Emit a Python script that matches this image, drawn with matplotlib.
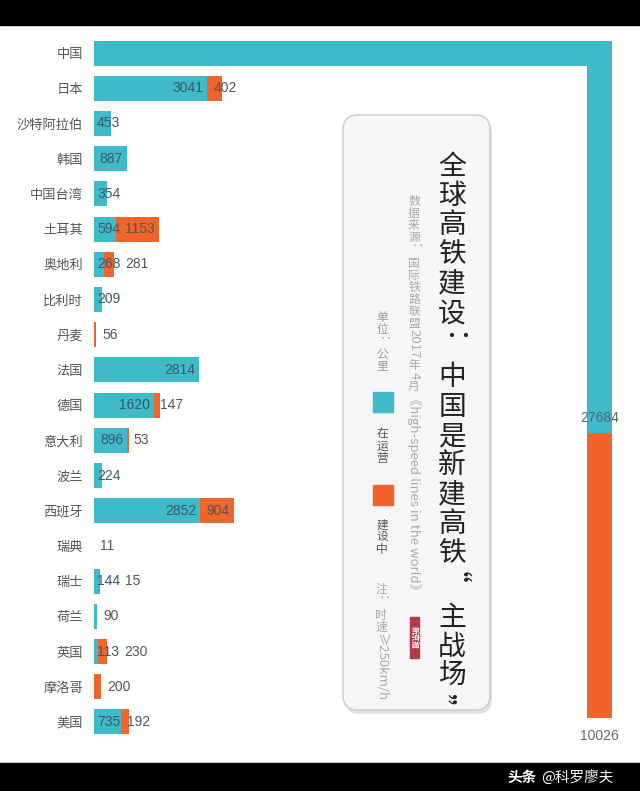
import matplotlib
matplotlib.use('Agg')
import matplotlib.pyplot as plt
import matplotlib.transforms as mtransforms
from matplotlib.patches import Rectangle, FancyBboxPatch
import numpy as np

CJK = ['Noto Sans CJK SC', 'DejaVu Sans']
NUM = ['Liberation Sans', 'DejaVu Sans']
plt.rcParams['font.family'] = CJK

# ---- data (km) ----
countries = ['中国', '日本', '沙特阿拉伯', '韩国', '中国台湾', '土耳其', '奥地利',
             '比利时', '丹麦', '法国', '德国', '意大利', '波兰', '西班牙',
             '瑞典', '瑞士', '荷兰', '英国', '摩洛哥', '美国']
in_operation = [27684, 3041, 453, 887, 354, 594, 268, 209, 0, 2814,
                1620, 896, 224, 2852, 11, 144, 90, 113, 0, 735]
under_construction = [10026, 402, 0, 0, 0, 1153, 281, 0, 56, 0,
                      147, 53, 0, 904, 0, 15, 0, 230, 200, 192]

title = '全球高铁建设：中国是新建高铁“主战场”'
source = '数据来源：国际铁路联盟2017年4月《high-speed lines in the world》'
unit = '单位：公里'
legend_labels = ['在运营', '建设中']
note = '注：时速≥250km/h'
stamp = '新京报'
watermark = ['头条', '@科罗廖夫']

TEAL = '#40b9c8'
ORANGE = '#f2652a'

W, H = 640, 791
fig = plt.figure(figsize=(W / 100, H / 100), dpi=100)
fig.patch.set_facecolor('white')
renderer = fig.canvas.get_renderer()
PIX = mtransforms.IdentityTransform()


def fx(x):
    return x / W


def fy(y):
    return 1 - y / H


# black strips of the screenshot
fig.add_artist(Rectangle((0, H - 25), W, 25, transform=PIX, color='black', zorder=0))
fig.add_artist(Rectangle((0, 0), W, H - 763, transform=PIX, color='black', zorder=0))

# ---- main horizontal bars ----
xmax = 13900
ax = fig.add_axes([fx(94), fy(739.6), 518 / W, 704.2 / H])
ax.set_xlim(0, xmax)
ax.set_ylim(len(countries) - 0.5, -0.5)
for s in ax.spines.values():
    s.set_visible(False)
ax.set_xticks([])
ypos = np.arange(len(countries))
ax.set_yticks(ypos, countries)
ax.tick_params(axis='y', length=0, pad=8, labelsize=9.5, labelcolor='#555555')
ax.patch.set_alpha(0)

op = np.array(in_operation)
uc = np.array(under_construction)
wrap = op > xmax
op_h = np.minimum(op, xmax)
uc_h = np.where(wrap, 0, uc)
ax.barh(ypos, op_h, height=0.71, color=TEAL, zorder=2)
ax.barh(ypos, uc_h, left=op_h, height=0.71, color=ORANGE, zorder=2)

fig.canvas.draw()
for i in range(len(countries)):
    if wrap[i]:
        continue
    o, c = op[i], uc[i]
    x0 = ax.transData.transform((0, i))[0]
    xo = ax.transData.transform((o, i))[0]
    xe = ax.transData.transform((o + c, i))[0]
    yd = ax.transData.transform((0, i))[1]
    teal_end = None
    if o > 0:
        w = xo - x0
        if w > 28:
            t = ax.annotate(str(o), (xo - 4, yd), xycoords='figure pixels',
                            ha='right', va='center', fontsize=10, family=NUM,
                            color='#35596a', zorder=3)
        elif w >= 4:
            t = ax.annotate(str(o), (x0 + 3, yd), xycoords='figure pixels',
                            ha='left', va='center', fontsize=10, family=NUM,
                            color='#35596a', zorder=3)
        else:
            t = ax.annotate(str(o), (xo + 6, yd), xycoords='figure pixels',
                            ha='left', va='center', fontsize=10, family=NUM,
                            color='#555555', zorder=3)
        teal_end = t.get_window_extent(renderer).x1
    if c > 0:
        cands = [xo + 6]
        if teal_end is not None:
            cands.append(teal_end + 5)
        else:
            cands.append(xe + 6)
        ax.annotate(str(c), (max(cands), yd), xycoords='figure pixels',
                    ha='left', va='center', fontsize=10, family=NUM,
                    color='#555555', zorder=3)

# ---- the part of the China bar that turns downwards ----
rest = int(op[wrap][0] - xmax)
china_uc = int(uc[wrap][0])
total = rest + china_uc
axv = fig.add_axes([fx(587), fy(718), 25 / W, 677 / H])
axv.set_xlim(0, 1)
axv.set_ylim(total, 0)
axv.axis('off')
axv.bar(0.5, rest, width=1, color=TEAL)
axv.bar(0.5, china_uc, bottom=rest, width=1, color=ORANGE)
axv.annotate(str(op[wrap][0]), (0.5, rest), xytext=(0, 15), textcoords='offset pixels',
             ha='center', va='center', fontsize=10, family=NUM, color='#55656d',
             annotation_clip=False)
axv.annotate(str(china_uc), (0.5, total), xytext=(0, -18), textcoords='offset pixels',
             ha='center', va='center', fontsize=10, family=NUM, color='#666666',
             annotation_clip=False)

# ---- title card ----
bx0, by0, bx1, by1 = 343, 115, 490, 710
fig.add_artist(FancyBboxPatch((bx0 + 2, H - by1 - 4), bx1 - bx0, by1 - by0,
                              boxstyle='round,pad=0,rounding_size=15', transform=PIX,
                              facecolor='#d6d6db', edgecolor='none', alpha=0.7, zorder=4))
fig.add_artist(FancyBboxPatch((bx0, H - by1), bx1 - bx0, by1 - by0,
                              boxstyle='round,pad=0,rounding_size=15', transform=PIX,
                              facecolor='#f7f5f8', edgecolor='#c9c9ce', lw=1, zorder=5))


def vtext(x, y, s, size, color, pitch, rot_size=None, min_adv=0, quote_dx=0):
    """vertical writing: CJK upright, other runs turned 90 degrees"""
    rot_size = rot_size or size
    runs = []
    for ch in s:
        up = '\u4e00' <= ch <= '\u9fff'
        if up or not runs or runs[-1][1]:
            runs.append([ch, up])
        else:
            runs[-1][0] += ch
    cur = y
    for run, up in runs:
        if up:
            fig.text(fx(x), fy(cur + pitch / 2), run, ha='center', va='center',
                     fontsize=size, color=color, family=CJK, zorder=6)
            cur += pitch
        else:
            dx = quote_dx if run in '“”' else 0
            t = fig.text(fx(x + dx), fy(cur), run, rotation=270, ha='center', va='top',
                         fontsize=rot_size, color=color, family=CJK, zorder=6)
            h = t.get_window_extent(renderer).height
            if h < min_adv:
                t.set_y(fy(cur + (min_adv - h) / 2))
                h = min_adv
            cur += h + 1


vtext(452, 152, title, 20, '#222222', 29.3, min_adv=34, quote_dx=-14)
vtext(414, 195, source, 8.5, '#a9a9ad', 12, rot_size=9.5)
vtext(382, 312, unit, 8.5, '#9a9a9e', 12)
fig.add_artist(Rectangle((373, H - 412), 20, 20, transform=PIX, color=TEAL, zorder=6))
vtext(382, 428, legend_labels[0], 8.5, '#555555', 12)
fig.add_artist(Rectangle((373, H - 505), 20, 20, transform=PIX, color=ORANGE, zorder=6))
vtext(382, 519, legend_labels[1], 8.5, '#555555', 12)
vtext(381, 583, note, 8.5, '#a9a9ad', 12, rot_size=9.5)

# newspaper stamp
fig.add_artist(Rectangle((410, H - 658), 9, 41, transform=PIX, color='#b23a48', zorder=6))
fig.text(fx(414.5), fy(637.5), stamp, rotation=270, ha='center', va='center',
         fontsize=5.5, color='white', weight='bold', zorder=7)

# watermark
fig.text(fx(507), fy(777), watermark[0], ha='left', va='center', fontsize=10.5,
         color='white', weight='bold', zorder=7)
fig.text(fx(541), fy(777), watermark[1], ha='left', va='center', fontsize=10.5,
         color='white', zorder=7)

fig.savefig('out.png', dpi=100, facecolor='white')
